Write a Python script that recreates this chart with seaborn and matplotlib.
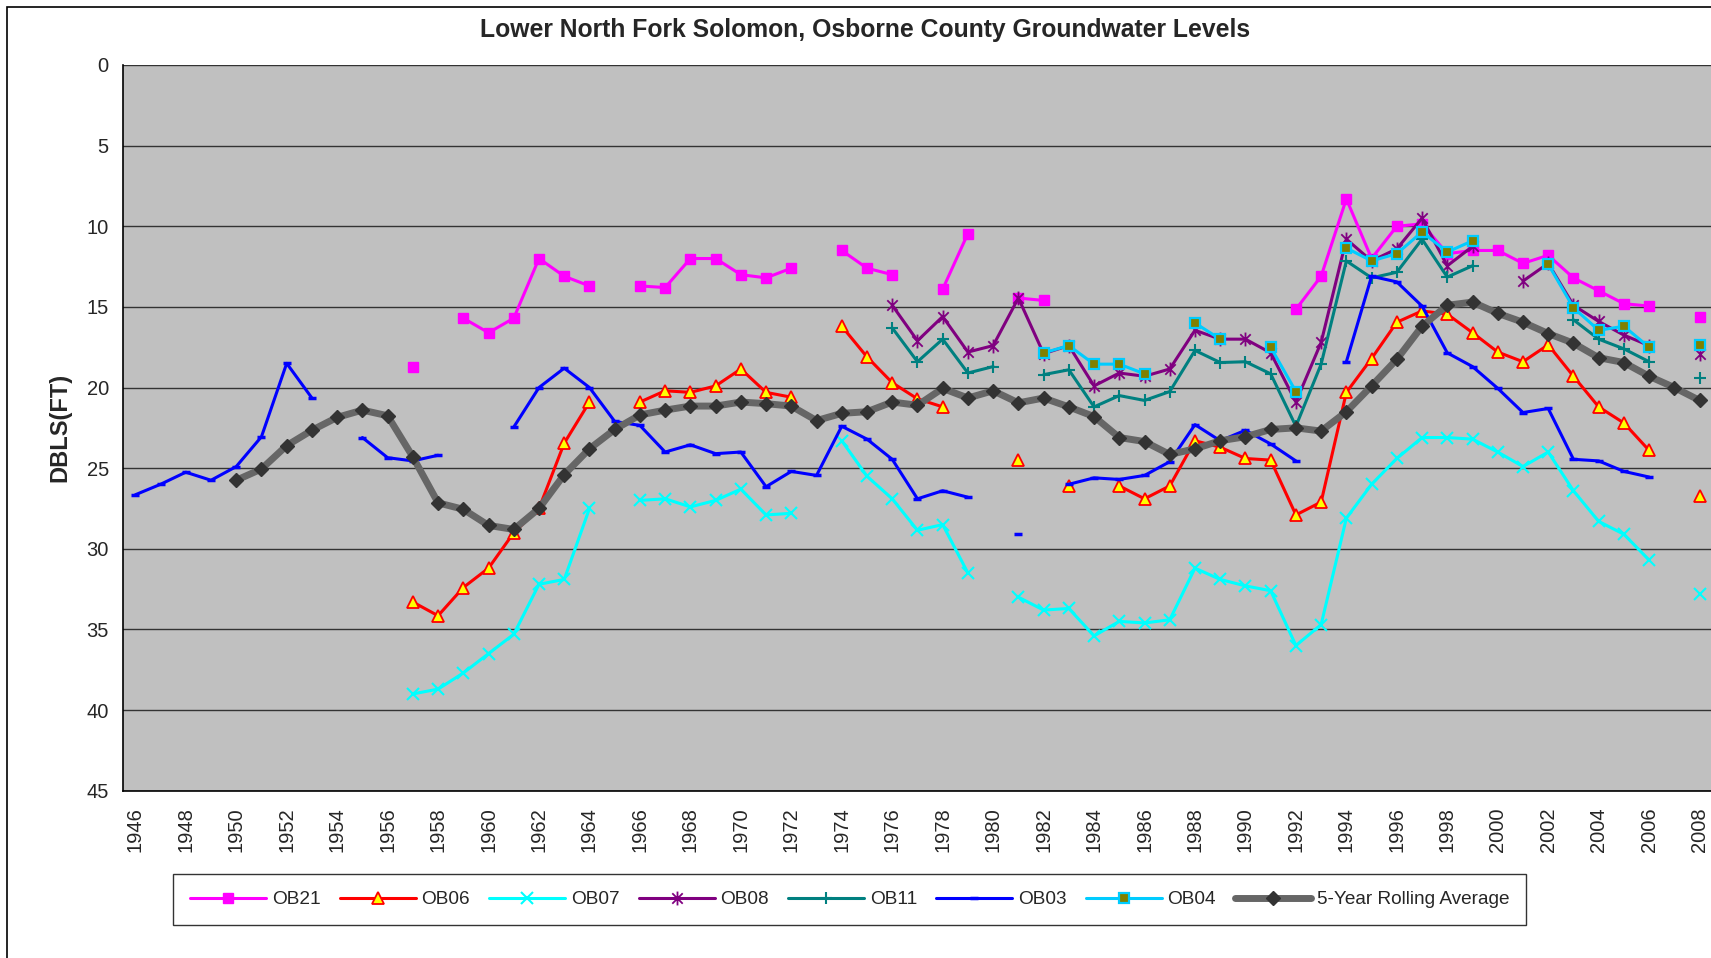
import numpy as np
import pandas as pd
import matplotlib
matplotlib.use("Agg")
import matplotlib.pyplot as plt
import seaborn as sns
from matplotlib.lines import Line2D
from matplotlib.path import Path
from matplotlib.patches import Rectangle

nan = np.nan

# ---------------- DATA (depth below land surface, ft) ---------------- #
years = list(range(1946, 2009))

# one row = 10 years, starting 1946
ob21 = [nan, nan, nan, nan, nan, nan, nan, nan, nan, nan,
        nan, 18.7, nan, 15.7, 16.6, 15.7, 12.0, 13.1, 13.7, nan,
        13.7, 13.8, 12.0, 12.0, 13.0, 13.2, 12.6, nan, 11.5, 12.6,
        13.0, nan, 13.9, 10.45, nan, 14.45, 14.6, nan, nan, nan,
        nan, nan, nan, nan, nan, nan, 15.15, 13.1, 8.3, 12.0,
        10.0, 9.85, 11.7, 11.5, 11.5, 12.3, 11.8, 13.2, 14.0, 14.8,
        14.95, nan, 15.65]
ob06 = [nan, nan, nan, nan, nan, nan, nan, nan, nan, nan,
        nan, 33.3, 34.15, 32.4, 31.2, 29.0, 27.5, 23.45, 20.9, nan,
        20.9, 20.2, 20.3, 19.9, 18.85, 20.3, 20.6, nan, 16.2, 18.1,
        19.7, 20.7, 21.2, nan, nan, 24.5, nan, 26.1, nan, 26.1,
        26.9, 26.1, 23.3, 23.7, 24.4, 24.5, 27.9, 27.1, 20.3, 18.2,
        15.95, 15.25, 15.45, 16.6, 17.8, 18.4, 17.35, 19.3, 21.2, 22.2,
        23.9, nan, 26.7]
ob07 = [nan, nan, nan, nan, nan, nan, nan, nan, nan, nan,
        nan, 39.0, 38.7, 37.7, 36.5, 35.3, 32.2, 31.9, 27.5, nan,
        27.0, 26.9, 27.4, 27.0, 26.3, 27.9, 27.8, nan, 23.3, 25.5,
        26.9, 28.85, 28.5, 31.5, nan, 33.0, 33.8, 33.7, 35.4, 34.5,
        34.6, 34.4, 31.2, 31.9, 32.3, 32.6, 36.0, 34.7, 28.1, 26.0,
        24.4, 23.1, 23.1, 23.2, 24.0, 24.9, 24.0, 26.4, 28.3, 29.1,
        30.7, nan, 32.8]
ob08 = [nan, nan, nan, nan, nan, nan, nan, nan, nan, nan,
        nan, nan, nan, nan, nan, nan, nan, nan, nan, nan,
        nan, nan, nan, nan, nan, nan, nan, nan, nan, nan,
        14.9, 17.1, 15.6, 17.8, 17.4, 14.45, 17.9, 17.4, 19.9, 19.1,
        19.3, 18.85, 16.45, 17.0, 17.0, 17.85, 20.9, 17.2, 10.8, 12.15,
        11.4, 9.5, 12.45, 11.25, nan, 13.4, 12.3, 14.9, 15.9, 16.75,
        17.4, nan, 17.95]
ob11 = [nan, nan, nan, nan, nan, nan, nan, nan, nan, nan,
        nan, nan, nan, nan, nan, nan, nan, nan, nan, nan,
        nan, nan, nan, nan, nan, nan, nan, nan, nan, nan,
        16.3, 18.4, 17.0, 19.1, 18.7, nan, 19.2, 18.9, 21.2, 20.5,
        20.8, 20.25, 17.7, 18.45, 18.4, 19.15, 22.4, 18.55, 12.15, 13.2,
        12.85, 10.8, 13.15, 12.45, nan, nan, nan, 15.8, 17.0, 17.6,
        18.4, nan, 19.4]
ob03 = [26.65, 26.0, 25.25, 25.75, 24.9, 23.05, 18.5, 20.65, nan, 23.1,
        24.35, 24.55, 24.2, nan, nan, 22.45, 20.0, 18.8, 20.0, 22.1,
        22.35, 24.0, 23.55, 24.1, 24.0, 26.15, 25.2, 25.45, 22.4, 23.2,
        24.45, 26.9, 26.4, 26.8, nan, 29.1, nan, 26.0, 25.6, 25.7,
        25.45, 24.6, 22.3, 23.3, 22.65, 23.5, 24.55, nan, 18.4, 13.1,
        13.45, 14.95, 17.85, 18.7, 20.05, 21.55, 21.3, 24.45, 24.55, 25.2,
        25.55, nan, nan]
ob04 = [nan, nan, nan, nan, nan, nan, nan, nan, nan, nan,
        nan, nan, nan, nan, nan, nan, nan, nan, nan, nan,
        nan, nan, nan, nan, nan, nan, nan, nan, nan, nan,
        nan, nan, nan, nan, nan, nan, 17.85, 17.4, 18.55, 18.55,
        19.15, nan, 16.0, 17.0, nan, 17.5, 20.25, nan, 11.35, 12.15,
        11.7, 10.35, 11.6, 10.9, nan, nan, 12.35, 15.05, 16.45, 16.2,
        17.5, nan, 17.35]
rolling5 = [nan, nan, nan, nan, 25.75, 25.05, 23.6, 22.65, 21.85, 21.4,
            21.75, 24.3, 27.15, 27.55, 28.55, 28.8, 27.5, 25.4, 23.8, 22.6,
            21.7, 21.4, 21.15, 21.15, 20.9, 21.0, 21.15, 22.05, 21.6, 21.5,
            20.9, 21.1, 20.05, 20.65, 20.2, 20.95, 20.65, 21.2, 21.8, 23.1,
            23.35, 24.15, 23.8, 23.3, 23.05, 22.6, 22.5, 22.7, 21.5, 19.9,
            18.25, 16.2, 14.9, 14.7, 15.4, 15.95, 16.65, 17.25, 18.15, 18.45,
            19.3, 20.0, 20.8]

series_names = ["OB21", "OB06", "OB07", "OB08", "OB11", "OB03", "OB04",
                "5-Year Rolling Average"]
series_values = [ob21, ob06, ob07, ob08, ob11, ob03, ob04, rolling5]

# Excel-style "star": an x with a vertical bar
star = Path([(0, -1), (0, 1), (-0.75, -0.75), (0.75, 0.75), (-0.75, 0.75), (0.75, -0.75)],
            [Path.MOVETO, Path.LINETO, Path.MOVETO, Path.LINETO, Path.MOVETO, Path.LINETO])

styles = {
    "OB21": dict(color="#FF00FF", lw=2.2, marker="s", ms=7, mfc="#FF00FF", mec="#FF00FF", mew=1),
    "OB06": dict(color="#FF0000", lw=2.2, marker="^", ms=8, mfc="#FFFF00", mec="#FF0000", mew=1.3),
    "OB07": dict(color="#00FFFF", lw=2.2, marker="x", ms=8, mfc="#00FFFF", mec="#00FFFF", mew=1.5),
    "OB08": dict(color="#800080", lw=2.2, marker=star, ms=10, mfc="none", mec="#800080", mew=1.3),
    "OB11": dict(color="#008080", lw=2.2, marker="+", ms=9, mfc="#008080", mec="#008080", mew=1.5),
    "OB03": dict(color="#0000FF", lw=2.2, marker="_", ms=6, mfc="#0000FF", mec="#0000FF", mew=2.5),
    "OB04": dict(color="#00CCFF", lw=2.2, marker="s", ms=7.5, mfc="#808000", mec="#00CCFF", mew=1.6),
    "5-Year Rolling Average": dict(color="#666666", lw=5, marker="D", ms=7.5,
                                   mfc="#333333", mec="#333333", mew=1),
}


def to_frame(vals):
    # split into pieces at the gaps so the line breaks like in Excel
    rows, seg, prev = [], 0, False
    for yr, v in zip(years, vals):
        if np.isnan(v):
            if prev:
                seg += 1
            prev = False
            continue
        rows.append((yr, v, seg))
        prev = True
    return pd.DataFrame(rows, columns=["year", "level", "seg"])


sns.set_style("white")
plt.rcParams["font.family"] = ["Liberation Sans", "DejaVu Sans"]

W, H = 1711, 958
fig = plt.figure(figsize=(W / 100, H / 100), dpi=100)
ax = fig.add_axes([122.7 / W, 1 - 790.7 / H, 1589.5 / W, (790.7 - 65) / H])
ax.set_facecolor("#C0C0C0")

handles = []
for name, vals in zip(series_names, series_values):
    st = styles[name]
    df = to_frame(vals)
    sns.lineplot(data=df, x="year", y="level", units="seg", estimator=None, sort=False,
                 ax=ax, legend=False, color=st["color"], linewidth=st["lw"],
                 marker=st["marker"], markersize=st["ms"], markerfacecolor=st["mfc"],
                 markeredgecolor=st["mec"], markeredgewidth=st["mew"], zorder=3)
    handles.append(Line2D([], [], color=st["color"], lw=st["lw"], marker=st["marker"],
                          markersize=st["ms"], markerfacecolor=st["mfc"],
                          markeredgecolor=st["mec"], markeredgewidth=st["mew"]))

# axes: inverted depth scale, category-style year axis
ax.set_ylim(45, 0)
ax.set_yticks(range(0, 50, 5))
ax.set_xlim(1945.5, 2008.5)
ax.set_xticks([y - 0.5 for y in years] + [2008.5])
ax.set_xticklabels([])
ax.set_xticks(years[::2], minor=True)
ax.set_xticklabels([str(y) for y in years[::2]], minor=True, rotation=90)
ax.tick_params(axis="x", which="major", length=5, width=1, color="black", direction="out")
ax.tick_params(axis="x", which="minor", length=0, pad=12, labelsize=14.5)
ax.tick_params(axis="y", length=5, width=1, color="black", direction="out", labelsize=14.5, pad=5)
ax.set_xlabel("")
ax.set_ylabel("")

ax.yaxis.grid(True, color="#333333", lw=1)
ax.xaxis.grid(False)
ax.set_axisbelow(True)
for side in ["top", "right"]:
    ax.spines[side].set_visible(False)
for side in ["left", "bottom"]:
    ax.spines[side].set_color("black")
    ax.spines[side].set_linewidth(1.2)

fig.text(865 / W, 1 - 30.5 / H, "Lower North Fork Solomon, Osborne County Groundwater Levels",
         ha="center", va="center", fontsize=17.8, fontweight="bold")
fig.text(60 / W, 1 - 427 / H, "DBLS(FT)", rotation=90, ha="center", va="center",
         fontsize=17, fontweight="bold")

leg = fig.legend(handles, series_names, loc="center", ncol=8,
                 bbox_to_anchor=(849.7 / W, 1 - 899.7 / H), fontsize=13.7,
                 frameon=True, fancybox=False, edgecolor="black", handlelength=4.0,
                 handletextpad=0.3, columnspacing=1.0, borderpad=0.9)
leg.get_frame().set_linewidth(1.0)

# outer chart border (cropped at right and bottom)
fig.patches.append(Rectangle((7 / W, -0.1), 1.2, 1 - 7 / H + 0.1, transform=fig.transFigure,
                             fill=False, edgecolor="black", lw=1.2))

fig.savefig("out.png", dpi=100)
